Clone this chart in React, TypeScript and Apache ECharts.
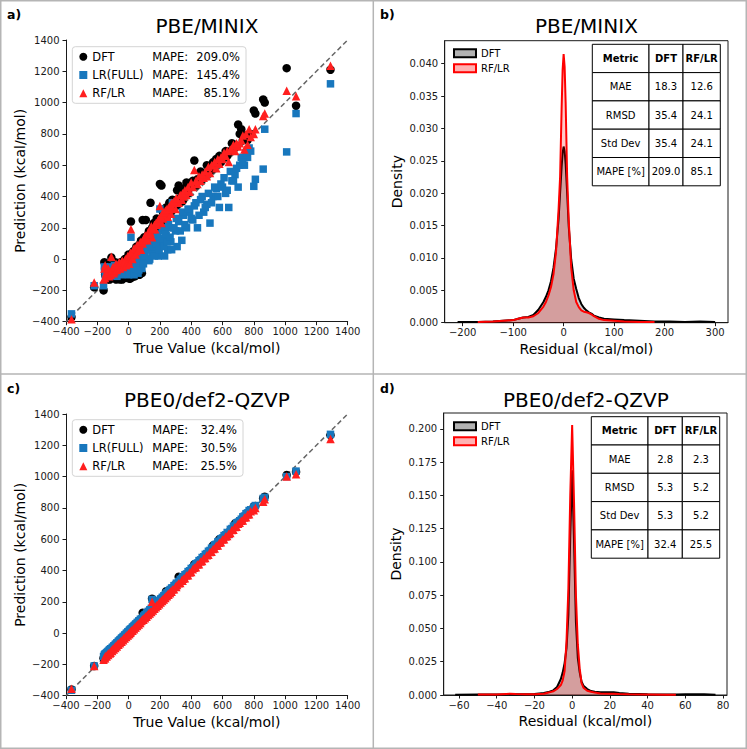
import React, { useEffect, useRef } from "react";
import * as echarts from "echarts";

// ---- Parity data: reference (true) energies and the three model predictions ----
const trueValues = [
  -365, -220, -160, -155, -150, -145, -135, -125, -110, -100,
  -90, -80, -70, -60, -50, -40, -30, -20, -10, 0,
  0, 10, 15, 20, 30, 40, 50, 60, 70, 80,
  85, 90, 100, 110, 120, 130, 140, 150, 160, 170,
  180, 190, 200, 210, 220, 230, 240, 250, 260, 270,
  280, 300, 310, 320, 340, 350, 370, 390, 410, 420,
  440, 460, 480, 500, 520, 540, 560, 580, 600, 620,
  640, 660, 680, 700, 710, 720, 740, 760, 780, 800,
  810, 860, 870, 1010, 1070, 1290,
  -150, -140, -130, -120, -115, -105, -95, -85, -75, -65,
  -55, -45, -35, -25, -15, -5, 5, 12, 25, 35,
  45, 55, 65, 75, 95, 105, 115, 125, 135, 145,
  155, 165, 175, 185, 195, 205, 215, 225, 235, 245,
  255, 265, 275, 290, 305, 330, 345, 360, 380, 400,
  430, 450, 470, 490, 510, 530, 550, 570, 590, 610,
  630, 650, 670, 690, 730, 750, 770,
];

// PBE/MINIX predictions
const dftPredMinix = [
  -370, -180, -200, -20, -60, -110, -130, -80, 10, -120,
  -60, -130, -40, -110, -20, -130, -60, 0, -120, -30,
  30, -125, 240, -20, 50, -110, 80, 20, -100, 120,
  -90, 250, 140, 250, 100, 180, 360, 200, 230, 150,
  260, 210, 480, 470, 300, 250, 330, 280, 360, 300,
  380, 340, 440, 470, 400, 450, 490, 470, 500, 630,
  510, 560, 540, 600, 580, 620, 640, 660, 640, 690,
  680, 740, 730, 860, 800, 830, 780, 760, 800, 950,
  930, 1020, 1000, 1220, 980, 1210,
  -100, -125, -40, -130, -90, -60, -100, -20, -125, -40,
  -130, -20, -120, 0, -90, 10, -125, 30, -115, 40,
  -95, 60, 50, 100, 110, 130, 110, 160, 150, 180,
  170, 190, 200, 220, 210, 250, 240, 270, 260, 290,
  300, 310, 320, 340, 340, 390, 370, 420, 420, 460,
  470, 500, 510, 540, 550, 570, 590, 610, 620, 650,
  660, 690, 700, 720, 760, 790, 790,
];
const lrPredMinix = [
  -350, -170, -170, -50, -100, -80, -60, -110, -70, -90,
  -40, -100, -60, -90, -70, -30, -50, -80, -40, -100,
  -20, -60, 140, -30, -80, 0, -40, -90, 20, -20,
  -60, 40, 60, 0, 80, -10, 100, 40, 120, 60,
  140, 20, 320, 100, 180, 20, 150, 60, 200, 110,
  360, 180, 80, 240, 120, 280, 200, 300, 250, 340,
  200, 380, 300, 350, 230, 400, 450, 330, 460, 420,
  330, 500, 540, 460, 600, 650, 600, 650, 690, 465,
  510, 575, 830, 685, 930, 1120,
  -60, -110, -90, -70, -50, -100, -80, -60, -110, -40,
  -80, -100, -60, -90, -30, -70, -90, -50, 10, -100,
  -60, 0, -70, 40, -30, 20, 100, 60, 0, 80,
  140, 20, 100, 160, 60, 130, 200, 80, 160, 110,
  220, 140, 60, 200, 260, 180, 300, 220, 320, 260,
  360, 280, 400, 330, 420, 360, 460, 400, 480, 520,
  440, 560, 500, 580, 620, 680, 710,
];
const rfPredMinix = [
  -385, -150, -130, -60, -40, -90, -70, -110, 15, -50,
  -80, -30, -60, -20, -40, -10, -30, 0, -20, 10,
  -10, 30, 190, 20, 40, 60, 50, 80, 90, 60,
  110, 100, 130, 150, 120, 160, 170, 140, 200, 190,
  220, 250, 340, 230, 260, 280, 300, 270, 320, 290,
  330, 320, 370, 360, 380, 400, 410, 430, 460, 570,
  480, 500, 520, 530, 550, 600, 580, 610, 640, 660,
  620, 700, 690, 720, 740, 760, 700, 730, 780, 800,
  830, 915, 930, 1075, 1040, 1235,
  -120, -100, -60, -90, -100, -70, -90, -50, -70, -40,
  -60, -20, -50, -10, -40, 20, -30, 40, 0, 70,
  30, 90, 60, 110, 120, 150, 130, 170, 160, 210,
  190, 220, 230, 240, 260, 270, 290, 300, 310, 320,
  330, 340, 360, 370, 390, 410, 420, 440, 460, 490,
  500, 530, 540, 560, 590, 600, 620, 640, 650, 680,
  690, 700, 730, 740, 790, 800, 830,
];

// PBE0/def2-QZVP predictions
const dftPredQzvp = [
  -360, -210, -160, -150, -145, -140, -130, -120, -105, -95,
  -85, -75, -65, -55, -48, -38, -28, -18, -8, 2,
  0, 12, 18, 22, 32, 42, 52, 62, 72, 82,
  88, 130, 102, 112, 122, 132, 142, 220, 162, 172,
  182, 192, 202, 212, 222, 232, 268, 252, 262, 272,
  282, 302, 312, 360, 342, 352, 372, 392, 412, 440,
  442, 462, 482, 502, 522, 560, 562, 600, 602, 622,
  642, 662, 700, 710, 712, 722, 742, 762, 782, 810,
  812, 862, 872, 1010, 1030, 1265,
  -146, -136, -126, -116, -111, -101, -91, -81, -71, -61,
  -51, -41, -31, -21, -11, -1, 9, 16, 29, 39,
  49, 59, 69, 79, 99, 109, 119, 129, 139, 149,
  159, 169, 179, 189, 199, 209, 219, 229, 239, 249,
  259, 269, 279, 294, 309, 334, 349, 364, 384, 404,
  434, 454, 474, 494, 514, 534, 554, 574, 594, 614,
  634, 654, 674, 694, 734, 754, 774,
];
const lrPredQzvp = [
  -365, -210, -150, -140, -135, -130, -120, -110, -100, -90,
  -80, -70, -60, -50, -40, -30, -22, -12, 0, 8,
  10, 20, 25, 30, 40, 50, 58, 68, 78, 88,
  92, 95, 108, 118, 128, 138, 148, 215, 168, 178,
  188, 198, 208, 218, 228, 238, 248, 258, 268, 278,
  288, 308, 318, 330, 348, 358, 378, 398, 418, 428,
  448, 468, 488, 508, 528, 548, 568, 588, 608, 628,
  630, 668, 688, 708, 718, 728, 748, 768, 788, 805,
  815, 860, 868, 1000, 1035, 1270,
  -135, -126, -116, -106, -100, -92, -82, -72, -62, -52,
  -42, -32, -22, -12, -2, 8, 18, 25, 38, 48,
  58, 68, 78, 88, 108, 118, 128, 138, 148, 158,
  168, 178, 188, 198, 208, 218, 228, 238, 248, 258,
  268, 278, 288, 303, 318, 343, 358, 373, 393, 413,
  443, 463, 483, 503, 523, 543, 563, 583, 603, 623,
  643, 663, 683, 703, 743, 763, 783,
];
const rfPredQzvp = [
  -355, -210, -170, -160, -150, -145, -135, -125, -110, -100,
  -90, -80, -70, -62, -52, -42, -32, -22, -12, -2,
  -5, 8, 12, 18, 28, 38, 48, 58, 68, 78,
  82, 88, 98, 108, 118, 128, 138, 200, 158, 168,
  178, 188, 198, 208, 218, 228, 238, 248, 258, 268,
  278, 298, 308, 318, 338, 348, 368, 388, 408, 418,
  438, 458, 478, 498, 518, 538, 558, 578, 598, 618,
  635, 658, 678, 698, 705, 718, 738, 758, 778, 785,
  800, 840, 855, 1000, 1015, 1240,
  -160, -150, -140, -130, -125, -115, -105, -95, -85, -75,
  -65, -55, -45, -35, -25, -15, -5, 2, 15, 25,
  35, 45, 55, 65, 85, 95, 105, 115, 125, 135,
  145, 155, 165, 175, 185, 195, 205, 215, 225, 235,
  245, 255, 265, 280, 295, 320, 335, 350, 370, 390,
  420, 440, 460, 480, 500, 520, 540, 560, 580, 600,
  620, 640, 660, 680, 720, 740, 760,
];

const modelNames = ["DFT", "LR(FULL)", "RF/LR"];
const mapeMinix = ["209.0%", "145.4%", "85.1%"];
const mapeQzvp = ["32.4%", "30.5%", "25.5%"];

// ---- Residual density curves (KDE) ----
const residualGridMinix = [
  -210, -170, -140, -120, -100, -90, -80, -70, -60, -50, -40, -35, -30, -25, -20,
  -15, -10, -7, -4, -2, 0, 2, 4, 7, 10, 15, 20, 25, 30, 35, 40, 45, 50, 55, 60,
  70, 80, 100, 120, 150, 180, 210, 240, 270, 300,
];
const dftDensityMinix = [
  0.0001, 0.0001, 0.0002, 0.0003, 0.0004, 0.0006, 0.0008, 0.0009, 0.0012, 0.002,
  0.0032, 0.004, 0.005, 0.0064, 0.0085, 0.0115, 0.016, 0.02, 0.024, 0.0262,
  0.0272, 0.0265, 0.0245, 0.02, 0.015, 0.0098, 0.0068, 0.0052, 0.0038, 0.0029,
  0.0023, 0.0019, 0.0016, 0.0014, 0.0011, 0.0008, 0.0006, 0.0005, 0.0004, 0.0003,
  0.0002, 0.0002, 0.0001, 0.0002, 0.0001,
];
const rfDensityMinix = [
  null, 0.0001, 0.0002, 0.0003, 0.0004, 0.0006, 0.0008, 0.0008, 0.001, 0.0015,
  0.0025, 0.0032, 0.0042, 0.0055, 0.0075, 0.011, 0.0175, 0.0225, 0.033, 0.039,
  0.0415, 0.0395, 0.034, 0.0225, 0.016, 0.0085, 0.005, 0.0032, 0.0024, 0.0019,
  0.0017, 0.0016, 0.0015, 0.0013, 0.001, 0.0006, 0.0004, 0.0003, 0.0002, 0.0001,
  0.0001, null, null, null, null,
];

const residualGridQzvp = [
  -62, -50, -40, -35, -33, -30, -25, -20, -15, -12, -10, -8, -6, -5, -4, -3, -2, -1,
  0, 1, 2, 3, 4, 5, 6, 8, 10, 12, 15, 20, 22, 25, 30, 40, 50, 55, 60, 70, 76,
];
const dftDensityQzvp = [
  0.0002, 0.0003, 0.0004, 0.0006, 0.0007, 0.0006, 0.0005, 0.0008, 0.0015, 0.0025,
  0.0035, 0.006, 0.012, 0.017, 0.024, 0.035, 0.06, 0.12, 0.169, 0.115,
  0.055, 0.028, 0.017, 0.01, 0.007, 0.0045, 0.003, 0.0025, 0.0021, 0.002,
  0.0021, 0.0015, 0.001, 0.0006, 0.0004, 0.0003, 0.0005, 0.0006, 0.0002,
];
const rfDensityQzvp = [
  null, 0.0003, 0.0004, 0.0008, 0.0009, 0.0007, 0.0005, 0.0006, 0.001, 0.002,
  0.0028, 0.0045, 0.0075, 0.011, 0.018, 0.04, 0.08, 0.15, 0.203, 0.145,
  0.075, 0.038, 0.02, 0.009, 0.0055, 0.0032, 0.0025, 0.0018, 0.0012, 0.001,
  0.001, 0.0008, 0.0006, 0.0004, 0.0002, 0.0001, null, null, null,
];
const densityNames = ["DFT", "RF/LR"];

// ---- Metric tables ----
const tableHeader = ["Metric", "DFT", "RF/LR"];
const metricNames = ["MAE", "RMSD", "Std Dev", "MAPE [%]"];
const dftMetricsMinix = ["18.3", "35.4", "35.4", "209.0"];
const rfMetricsMinix = ["12.6", "24.1", "24.1", "85.1"];
const dftMetricsQzvp = ["2.8", "5.3", "5.3", "32.4"];
const rfMetricsQzvp = ["2.3", "5.2", "5.2", "25.5"];

// ---- Tick values ----
const residualTicksMinix = [-200, -100, 0, 100, 200, 300];
const densityTicksMinix = [0, 0.005, 0.01, 0.015, 0.02, 0.025, 0.03, 0.035, 0.04];
const residualTicksQzvp = [-60, -40, -20, 0, 20, 40, 60, 80];
const densityTicksQzvp = [0, 0.025, 0.05, 0.075, 0.1, 0.125, 0.15, 0.175, 0.2];

const FONT = "DejaVu Sans";
const INK = "#1a1a1a";
const BLUE = "#1877bd";
const RED = "#ff1f1f";

const zip = (xs: number[], ys: (number | null)[]) =>
  xs.map((x, i) => [x, ys[i]]).filter((p) => p[1] !== null);

const minus = (v: number) => String(v).replace("-", "\u2212");

function valueAxis(gridIndex: number, extra: any) {
  return {
    type: "value",
    gridIndex,
    nameLocation: "middle",
    nameTextStyle: { fontSize: 14, color: "#000", fontFamily: FONT },
    axisLine: { show: true, onZero: false, lineStyle: { color: INK, width: 1 } },
    axisTick: { show: true, length: 3.5, lineStyle: { color: INK, width: 1 } },
    axisLabel: { fontSize: 10, color: INK, fontFamily: FONT, formatter: minus },
    splitLine: { show: false },
    ...extra,
    ...(extra.axisLabel ? { axisLabel: { fontSize: 10, color: INK, fontFamily: FONT, formatter: minus, ...extra.axisLabel } } : {}),
    ...(extra.axisTick ? { axisTick: { show: true, length: 3.5, lineStyle: { color: INK, width: 1 }, ...extra.axisTick } } : {}),
  };
}

function parityAxes(gridIndex: number) {
  const base = { min: -400, max: 1400, interval: 200 };
  return {
    x: valueAxis(gridIndex, { ...base, name: "True Value (kcal/mol)", nameGap: 19, axisLabel: { margin: 5 } }),
    y: valueAxis(gridIndex, { ...base, name: "Prediction (kcal/mol)", nameGap: 39, axisLabel: { margin: 6.5 } }),
  };
}

function densityAxes(gridIndex: number, xMin: number, xMax: number, xTicks: number[], yMax: number, yTicks: number[]) {
  return {
    x: valueAxis(gridIndex, {
      min: xMin,
      max: xMax,
      name: "Residual (kcal/mol)",
      nameGap: 19,
      axisLabel: { margin: 5, customValues: xTicks },
      axisTick: { customValues: xTicks },
    }),
    y: valueAxis(gridIndex, {
      min: 0,
      max: yMax,
      name: "Density",
      nameGap: 41,
      axisLabel: { margin: 6.5, customValues: yTicks, formatter: (v: number) => v.toFixed(3) },
      axisTick: { customValues: yTicks },
    }),
  };
}

function paritySeries(prefix: string, idx: number, preds: number[][]) {
  const diag = {
    type: "line",
    name: prefix + "-diag",
    xAxisIndex: idx,
    yAxisIndex: idx,
    data: [[-400, -400], [1400, 1400]],
    symbol: "none",
    silent: true,
    lineStyle: { color: "#666", width: 1.5, type: [5, 3] },
    z: 1,
  };
  const styles = [
    { symbol: "circle", size: 8.5, color: "#000" },
    { symbol: "rect", size: 7.5, color: BLUE },
    { symbol: "triangle", size: 8.5, color: RED },
  ];
  return [
    diag,
    ...preds.map((p, i) => ({
      type: "scatter",
      name: `${prefix}-${i}`,
      xAxisIndex: idx,
      yAxisIndex: idx,
      data: zip(trueValues, p),
      symbol: styles[i].symbol,
      symbolSize: styles[i].size,
      itemStyle: { color: styles[i].color, opacity: 1 },
      z: 2 + i,
    })),
  ];
}

function densitySeries(prefix: string, idx: number, grid: number[], curves: (number | null)[][]) {
  const look = [
    { line: "#000", fill: "rgba(0,0,0,0.3)" },
    { line: "#ff0000", fill: "rgba(255,0,0,0.3)" },
  ];
  return curves.map((c, i) => ({
    type: "line",
    name: `${prefix}-${i}`,
    xAxisIndex: idx,
    yAxisIndex: idx,
    data: zip(grid, c),
    symbol: "none",
    showSymbol: false,
    smooth: false,
    lineStyle: { color: look[i].line, width: 2 },
    itemStyle: { color: look[i].line },
    areaStyle: { color: look[i].fill, origin: "start" },
    z: 2 + i,
  }));
}

function parityLegend(prefix: string, top: number, mape: string[], valueWidth: number) {
  const icons = ["circle", "rect", "triangle"];
  return {
    orient: "vertical",
    left: 72.3,
    top,
    padding: [3, 6, 3, 7],
    itemGap: 4.3,
    itemWidth: 8,
    itemHeight: 8,
    selectedMode: false,
    backgroundColor: "rgba(255,255,255,0.85)",
    borderColor: "#d4d4d4",
    borderWidth: 1,
    borderRadius: 3,
    data: modelNames.map((_, i) => ({ name: `${prefix}-${i}`, icon: icons[i] })),
    formatter: (name: string) => {
      const i = Number(name.split("-")[1]);
      return `{n|${modelNames[i]}}{m|MAPE:}{v|${mape[i]}}`;
    },
    textStyle: {
      fontFamily: FONT,
      fontSize: 11.5,
      color: "#000",
      lineHeight: 14,
      rich: {
        n: { width: 60, fontSize: 11.5, lineHeight: 14, fontFamily: FONT, color: "#000" },
        m: { width: 42.7, fontSize: 11.5, lineHeight: 14, fontFamily: FONT, color: "#000" },
        v: { width: valueWidth, align: "right", fontSize: 11.5, lineHeight: 14, fontFamily: FONT, color: "#000" },
      },
    },
  };
}

function densityLegend(prefix: string, top: number) {
  const looks = [
    { color: "rgba(0,0,0,0.3)", borderColor: "#000" },
    { color: "rgba(255,0,0,0.3)", borderColor: "#ff0000" },
  ];
  return {
    orient: "vertical",
    left: 453,
    top,
    padding: 0,
    itemGap: 3,
    itemWidth: 22,
    itemHeight: 8,
    selectedMode: false,
    data: densityNames.map((_, i) => ({
      name: `${prefix}-${i}`,
      icon: "rect",
      itemStyle: { color: looks[i].color, borderColor: looks[i].borderColor, borderWidth: 2 },
    })),
    formatter: (name: string) => densityNames[Number(name.split("-")[1])],
    textStyle: { fontFamily: FONT, fontSize: 10, color: "#000", lineHeight: 12 },
  };
}

function metricTable(x0: number, y0: number, colW: number[], rowH: number, dft: string[], rf: string[]) {
  const rows = [tableHeader, ...metricNames.map((m, i) => [m, dft[i], rf[i]])];
  const els: any[] = [];
  rows.forEach((row, r) => {
    let x = x0;
    row.forEach((cell, c) => {
      els.push({
        type: "rect",
        shape: { x, y: y0 + r * rowH, width: colW[c], height: rowH },
        style: { fill: "#fff", stroke: "#000", lineWidth: 1 },
        z: 100,
      });
      els.push({
        type: "text",
        z: 101,
        style: {
          text: cell,
          x: x + colW[c] / 2,
          y: y0 + r * rowH + rowH / 2,
          textAlign: "center",
          textVerticalAlign: "middle",
          fill: "#000",
          font: `${r === 0 ? "bold " : ""}10px "${FONT}"`,
        },
      });
      x += colW[c];
    });
  });
  return els;
}

function panelLetter(text: string, x: number, y: number) {
  return {
    type: "text",
    z: 110,
    style: {
      text,
      x,
      y,
      textAlign: "left",
      textVerticalAlign: "middle",
      fill: "#000",
      font: `bold 12.5px "${FONT}"`,
    },
  };
}

export default function App() {
  const ref = useRef<HTMLDivElement>(null);

  useEffect(() => {
    if (!ref.current) return;
    const chart = echarts.init(ref.current, null, { renderer: "svg" });

    const pa = parityAxes(0);
    const pb = densityAxes(1, -235.5, 325.5, residualTicksMinix, 0.04355, densityTicksMinix);
    const pc = parityAxes(2);
    const pd = densityAxes(3, -68.1, 82.1, residualTicksQzvp, 0.212, densityTicksQzvp);

    const option: any = {
      animation: false,
      backgroundColor: "#fff",
      textStyle: { fontFamily: FONT },
      title: [
        { text: "PBE/MINIX", left: 206.9, top: 16 },
        { text: "PBE/MINIX", left: 586.4, top: 16 },
        { text: "PBE0/def2-QZVP", left: 206.9, top: 390 },
        { text: "PBE0/def2-QZVP", left: 585.8, top: 390 },
      ].map((t) => ({
        ...t,
        textAlign: "center",
        padding: 0,
        textStyle: { fontSize: 20, fontWeight: "normal", color: "#000", fontFamily: FONT },
      })),
      grid: [
        { left: 66, top: 40, width: 281.7, height: 281.7, outerBoundsMode: "none" },
        {
          left: 444.7, top: 40.7, width: 283.3, height: 282, outerBoundsMode: "none",
          show: true, borderColor: INK, borderWidth: 1, backgroundColor: "transparent",
        },
        { left: 66, top: 414, width: 281.7, height: 281.7, outerBoundsMode: "none" },
        {
          left: 443.7, top: 413, width: 283.3, height: 282, outerBoundsMode: "none",
          show: true, borderColor: INK, borderWidth: 1, backgroundColor: "transparent",
        },
      ],
      xAxis: [pa.x, pb.x, pc.x, pd.x],
      yAxis: [pa.y, pb.y, pc.y, pd.y],
      legend: [
        parityLegend("a", 46.7, mapeMinix, 45),
        densityLegend("b", 47.3),
        parityLegend("c", 419.7, mapeQzvp, 42),
        densityLegend("d", 420.3),
      ],
      series: [
        ...paritySeries("a", 0, [dftPredMinix, lrPredMinix, rfPredMinix]),
        ...densitySeries("b", 1, residualGridMinix, [dftDensityMinix, rfDensityMinix]),
        ...paritySeries("c", 2, [dftPredQzvp, lrPredQzvp, rfPredQzvp]),
        ...densitySeries("d", 3, residualGridQzvp, [dftDensityQzvp, rfDensityQzvp]),
      ],
      graphic: [
        {
          type: "rect",
          z: 120,
          silent: true,
          shape: { x: 0.75, y: 0.75, width: 745.5, height: 747.5 },
          style: { fill: "none", stroke: "#b5b5b5", lineWidth: 1.5 },
        },
        {
          type: "line",
          z: 120,
          silent: true,
          shape: { x1: 373.3, y1: 0, x2: 373.3, y2: 749 },
          style: { stroke: "#b5b5b5", lineWidth: 1.5 },
        },
        {
          type: "line",
          z: 120,
          silent: true,
          shape: { x1: 0, y1: 374, x2: 747, y2: 374 },
          style: { stroke: "#b5b5b5", lineWidth: 1.5 },
        },
        panelLetter("a)", 7, 14.5),
        panelLetter("b)", 380, 14.5),
        panelLetter("c)", 7, 388.5),
        panelLetter("d)", 380, 388.5),
        ...metricTable(592.3, 44.3, [56.7, 34, 37.3], 28.3, dftMetricsMinix, rfMetricsMinix),
        ...metricTable(591.3, 416.7, [56.7, 34.3, 37.4], 28.3, dftMetricsQzvp, rfMetricsQzvp),
      ],
    };

    chart.setOption(option);
    return () => chart.dispose();
  }, []);

  return (
    <div
      ref={ref}
      style={{ position: "absolute", left: 0, top: 0, width: 747, height: 749 }}
    />
  );
}
